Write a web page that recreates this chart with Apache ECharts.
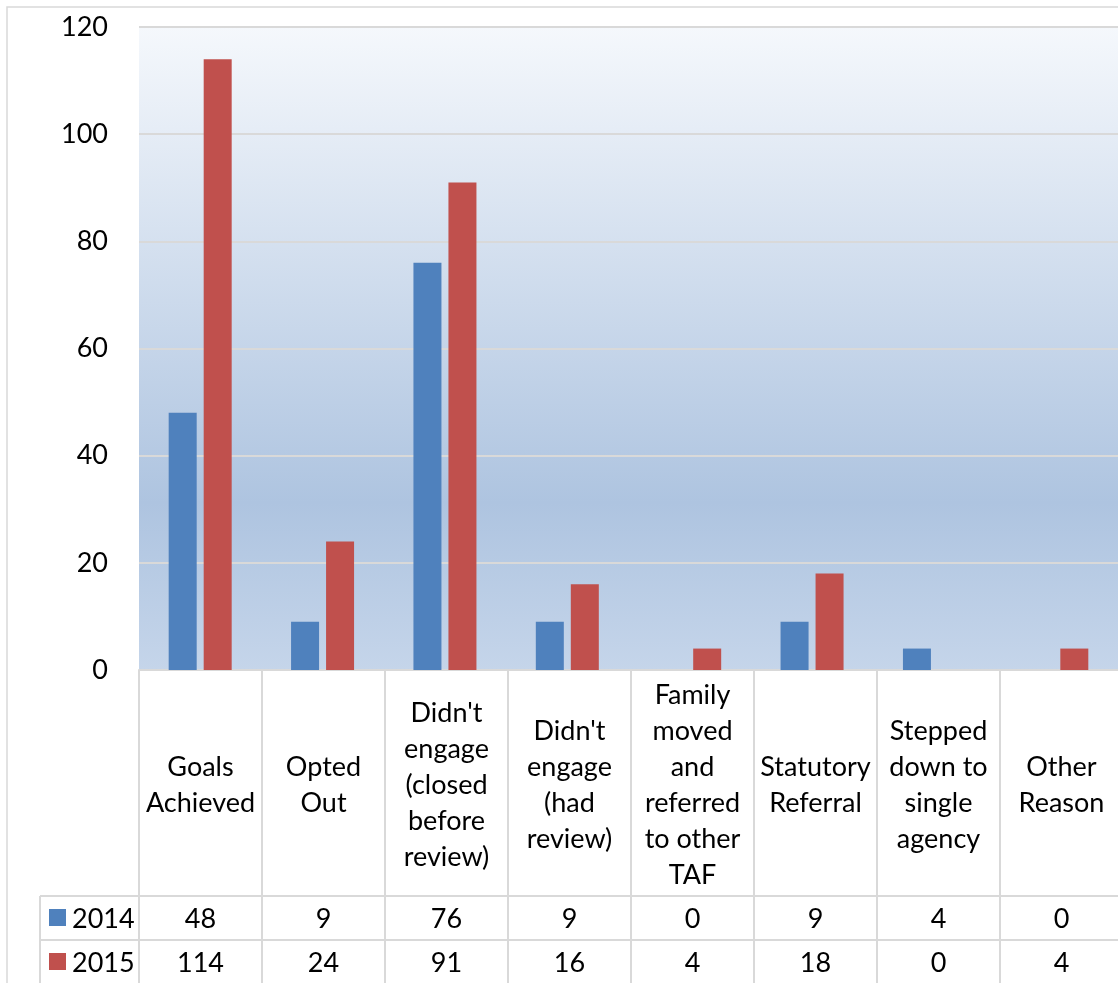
<!DOCTYPE html>
<html>
<head>
<meta charset="utf-8">
<script src="https://cdn.jsdelivr.net/npm/echarts@6/dist/echarts.min.js"></script>
<style>
  html, body { margin: 0; padding: 0; background: #fff; }
  #chart { width: 1118px; height: 983px; }
</style>
</head>
<body>
<div id="chart"></div>
<script>
const categories = [
  'Goals\nAchieved',
  'Opted\nOut',
  "Didn't\nengage\n(closed\nbefore\nreview)",
  "Didn't\nengage\n(had\nreview)",
  'Family\nmoved\nand\nreferred\nto other\nTAF',
  'Statutory\nReferral',
  'Stepped\ndown to\nsingle\nagency',
  'Other\nReason',
];
const seriesNames = ['2014', '2015'];
const values2014 = [48, 9, 76, 9, 0, 9, 4, 0];
const values2015 = [114, 24, 91, 16, 4, 18, 0, 4];
const colors = ['#4f81bd', '#c0504d'];

const FONT = 'Lato, "Open Sans", sans-serif';
const FS = 27;
const gridLeft = 139, gridTop = 27, gridWidth = 984, gridBottomY = 670;
const colW = gridWidth / categories.length;
const headerBottom = 896, rowH = 44;
const legendLeft = 40;
const lineColor = '#d9d9d9';

const chart = echarts.init(document.getElementById('chart'));

function buildGraphics() {
  const g = [];
  // outer chart frame
  g.push({ type: 'rect', shape: { x: 7, y: 7, width: 1130, height: 1000 },
    style: { fill: 'none', stroke: lineColor, lineWidth: 1.5 }, z: 0 });
  // vertical column lines of table
  for (let i = 0; i <= categories.length; i++) {
    const x = gridLeft + i * colW;
    g.push({ type: 'line', shape: { x1: x, y1: gridBottomY, x2: x, y2: 990 },
      style: { stroke: lineColor, lineWidth: 2 } });
  }
  g.push({ type: 'line', shape: { x1: legendLeft, y1: headerBottom, x2: legendLeft, y2: 990 },
    style: { stroke: lineColor, lineWidth: 2 } });
  [headerBottom, headerBottom + rowH].forEach((y) => {
    g.push({ type: 'line', shape: { x1: legendLeft, y1: y, x2: 1125, y2: y },
      style: { stroke: lineColor, lineWidth: 2 } });
  });
  // category headers
  categories.forEach((c, i) => {
    g.push({ type: 'text', x: gridLeft + (i + 0.5) * colW, y: (gridBottomY + headerBottom) / 2 + 2,
      style: { text: c, font: FS + 'px ' + FONT, fill: '#000', align: 'center',
        verticalAlign: 'middle', lineHeight: 36 } });
  });
  // rows
  [values2014, values2015].forEach((vals, r) => {
    const cy = headerBottom + rowH * r + rowH / 2;
    g.push({ type: 'rect', shape: { x: 49, y: cy - 9, width: 17, height: 17 },
      style: { fill: colors[r] } });
    g.push({ type: 'text', x: 72, y: cy + 1,
      style: { text: seriesNames[r], font: FS + 'px ' + FONT, fill: '#000', align: 'left', verticalAlign: 'middle' } });
    vals.forEach((v, i) => {
      g.push({ type: 'text', x: gridLeft + (i + 0.5) * colW, y: cy + 1,
        style: { text: String(v), font: FS + 'px ' + FONT, fill: '#000', align: 'center', verticalAlign: 'middle' } });
    });
  });
  return g;
}

chart.setOption({
  animation: false,
  backgroundColor: '#fff',
  grid: { left: gridLeft, top: gridTop, width: gridWidth, height: gridBottomY - gridTop,
    backgroundColor: new echarts.graphic.LinearGradient(0, 0, 0, 1, [
      { offset: 0, color: '#f5f8fc' },
      { offset: 0.74, color: '#aec4e0' },
      { offset: 1, color: '#c5d5ea' },
    ]), show: true, borderWidth: 0 },
  xAxis: {
    type: 'category',
    data: categories,
    axisLine: { show: true, lineStyle: { color: lineColor, width: 2 } },
    axisTick: { show: false },
    axisLabel: { show: false },
  },
  yAxis: {
    type: 'value',
    min: 0, max: 120, interval: 20,
    axisLine: { show: false },
    axisTick: { show: false },
    axisLabel: { margin: 31, fontSize: FS, fontFamily: FONT, color: '#000' },
    splitLine: { lineStyle: { color: lineColor, width: 2 } },
  },
  series: [values2014, values2015].map((vals, i) => ({
    name: seriesNames[i],
    type: 'bar',
    data: vals,
    barWidth: 28,
    barGap: '25%',
    itemStyle: { color: colors[i] },
  })),
  graphic: buildGraphics(),
});
</script>
</body>
</html>
